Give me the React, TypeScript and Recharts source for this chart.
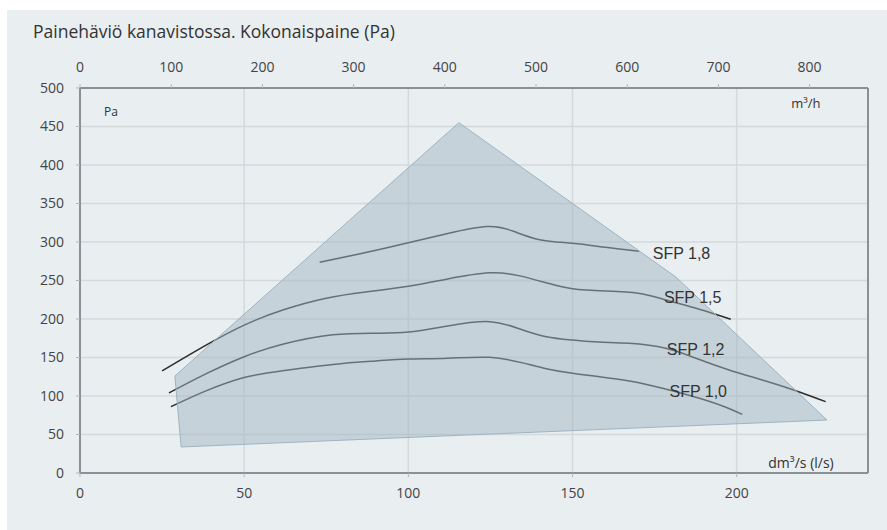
import React from 'react';
import {
  ComposedChart,
  Line,
  Area,
  XAxis,
  YAxis,
  CartesianGrid,
  ReferenceDot,
  ReferenceLine,
} from 'recharts';

// ---- Data ----
const bottomTicks = [0, 50, 100, 150, 200];
const topTicks = [0, 100, 200, 300, 400, 500, 600, 700, 800];
const yTicks = [0, 50, 100, 150, 200, 250, 300, 350, 400, 450, 500];

// working-range polygon (l/s, Pa)
const polyX = [28.9, 30.8, 115.4, 181.5, 227.5];
const polyLow = [126, 33.8, 48.9, 60.6, 68.8];
const polyHigh = [126, 133.2, 455, 254.5, 68.8];

// SFP curves
const sfp18X = [73, 85, 100, 112, 124, 132, 140, 150, 160, 170.3];
const sfp18Y = [273.6, 284.5, 299, 311, 320, 314, 303, 298.3, 293.1, 288];

const sfp15X = [25, 38, 50, 62, 75, 87, 100, 112, 124.7, 134, 142, 150, 160, 170, 178.4, 188.6, 198.2];
const sfp15Y = [132.5, 165, 192, 212, 227, 235, 242.5, 252, 260, 256, 247, 239.4, 236.4, 233.4, 224.7, 212.6, 199.6];

const sfp12X = [27.1, 38, 50, 62, 77, 90, 100, 112, 124.7, 134, 142, 150, 158, 167.2, 178.4, 187.6, 197.7, 207.8, 218, 227.1];
const sfp12Y = [103.9, 128, 151, 167.5, 179.5, 181.6, 183, 191, 196.5, 187, 177, 172.7, 170, 168.4, 162, 149, 133.8, 120.8, 106.9, 92.6];

const sfp10X = [27.7, 38, 50, 62, 77, 90, 100, 112, 124.7, 134.8, 142, 150, 158.2, 167.3, 177.4, 187.6, 195.7, 201.7];
const sfp10Y = [86.1, 106, 124, 133, 141, 145.5, 148, 149, 150.2, 143, 135.5, 129.5, 125, 119.5, 110, 98.3, 87, 76.2];

const sfpLabels = ['SFP 1,8', 'SFP 1,5', 'SFP 1,2', 'SFP 1,0'];
const sfpLabelX = [183.2, 186.6, 187.5, 188.3];
const sfpLabelY = [285.7, 228.6, 161, 106.5];

const title = 'Painehäviö kanavistossa. Kokonaispaine (Pa)';
const unitTexts = ['Pa', 'm³/h', 'dm³/s (l/s)'];
const unitX = [9.4, 221.1, 219.6];
const unitY = [469, 480.5, 13];
const unitSizes = [12, 13, 14];

const toPoints = (xs: number[], ys: number[]) => xs.map((x, i) => ({ x, y: ys[i] }));
const polyData = polyX.map((x, i) => ({ x, range: [polyLow[i], polyHigh[i]] }));
const curves = [toPoints(sfp18X, sfp18Y), toPoints(sfp15X, sfp15Y), toPoints(sfp12X, sfp12Y), toPoints(sfp10X, sfp10Y)];
const topAxisData = topTicks.map((t) => ({ x: t, y: 0 }));

const axisColor = '#8b9095';
const tickStyle = { fill: '#444', fontSize: 14, fontFamily: 'Open Sans' };

export default function App() {
  return (
    <div style={{ position: 'absolute', left: 0, top: 0, width: 887, height: 530, background: '#fff' }}>
      <div style={{ position: 'absolute', left: 7, top: 10, width: 880, height: 520, background: '#e9eef1' }} />
      <div
        style={{
          position: 'absolute',
          left: 33,
          top: 19,
          fontFamily: 'Open Sans',
          fontSize: 17.5,
          color: '#333',
          whiteSpace: 'nowrap',
        }}
      >
        {title}
      </div>
      <div style={{ position: 'absolute', left: 0, top: 0 }}>
        <ComposedChart width={887} height={530} margin={{ top: 58, right: 19, bottom: 27, left: 20 }}>
          <CartesianGrid stroke="#d4d9dc" strokeWidth={1.5} xAxisId="b" yAxisId="l" />
          <XAxis
            xAxisId="b"
            dataKey="x"
            type="number"
            domain={[0, 240]}
            ticks={bottomTicks}
            allowDataOverflow
            height={30}
            tickSize={4}
            tickMargin={11}
            tick={tickStyle}
            axisLine={{ stroke: axisColor, strokeWidth: 2 }}
            tickLine={{ stroke: '#b0b5b9', strokeWidth: 1 }}
          />
          <XAxis
            xAxisId="top"
            orientation="top"
            dataKey="x"
            type="number"
            domain={[0, 864]}
            ticks={topTicks}
            allowDataOverflow
            height={30}
            tickSize={4}
            tickMargin={12}
            tick={tickStyle}
            axisLine={{ stroke: axisColor, strokeWidth: 2 }}
            tickLine={{ stroke: '#b0b5b9', strokeWidth: 1 }}
          />
          <YAxis
            yAxisId="l"
            type="number"
            domain={[0, 500]}
            ticks={yTicks}
            allowDataOverflow
            width={60}
            tickSize={4}
            tickMargin={12}
            tick={tickStyle}
            axisLine={{ stroke: axisColor, strokeWidth: 2 }}
            tickLine={{ stroke: '#b0b5b9', strokeWidth: 1 }}
          />
          <Line
            xAxisId="top"
            yAxisId="l"
            data={topAxisData}
            dataKey="y"
            stroke="none"
            dot={false}
            activeDot={false}
            isAnimationActive={false}
          />
          {curves.map((pts, i) => (
            <Line
              key={i}
              xAxisId="b"
              yAxisId="l"
              data={pts}
              dataKey="y"
              type="natural"
              stroke="#2b2b2b"
              strokeWidth={1.5}
              dot={false}
              activeDot={false}
              isAnimationActive={false}
              zIndex={100}
            />
          ))}
          <Area
            xAxisId="b"
            yAxisId="l"
            data={polyData}
            dataKey="range"
            type="linear"
            fill="#a1b6c1"
            fillOpacity={0.5}
            stroke="#9db4c2"
            strokeWidth={1}
            dot={false}
            activeDot={false}
            isAnimationActive={false}
            zIndex={500}
          />
          <ReferenceLine xAxisId="b" yAxisId="l" x={240} stroke={axisColor} strokeWidth={2} ifOverflow="visible" />
          {sfpLabels.map((t, i) => (
            <ReferenceDot
              key={t}
              xAxisId="b"
              yAxisId="l"
              x={sfpLabelX[i]}
              y={sfpLabelY[i]}
              r={1}
              fill="none"
              stroke="none"
              ifOverflow="visible"
              label={{ value: t, position: 'center', fill: '#333', fontSize: 16, fontFamily: 'Liberation Sans' }}
            />
          ))}
          {unitTexts.map((t, i) => (
            <ReferenceDot
              key={t}
              xAxisId="b"
              yAxisId="l"
              x={unitX[i]}
              y={unitY[i]}
              r={1}
              fill="none"
              stroke="none"
              ifOverflow="visible"
              label={{ value: t, position: 'center', fill: '#333', fontSize: unitSizes[i], fontFamily: 'Open Sans' }}
            />
          ))}
        </ComposedChart>
      </div>
    </div>
  );
}
